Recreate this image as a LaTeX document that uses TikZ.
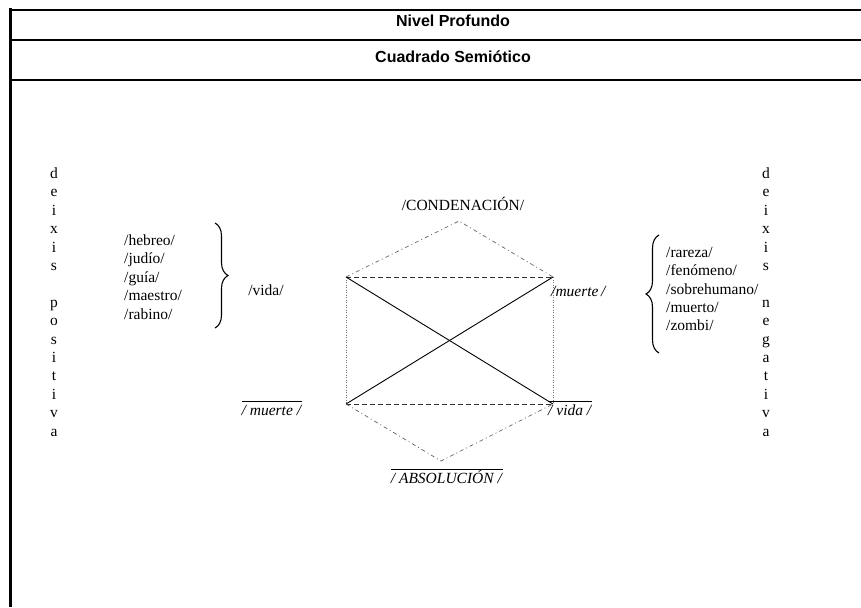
\documentclass[tikz,border=0pt]{standalone}
\usepackage{fontspec}
\setmainfont{Liberation Serif}
\newfontfamily\headfont{Liberation Sans}
\usetikzlibrary{decorations.pathreplacing}
\newcommand{\barred}[1]{$\overline{\mbox{\rule{0pt}{12.5pt}\textit{#1}}}$}
\begin{document}
\begin{tikzpicture}[x=1pt,y=-1pt,
  txt/.style={inner sep=0pt, font=\fontsize{15.5}{18.4}\selectfont},
  head/.style={inner sep=0pt, font=\headfont\bfseries\fontsize{16}{19}\selectfont},
  frame/.style={draw=black, line width=1.3pt},
  contrary/.style={draw=black!80, line width=0.8pt, dash pattern=on 5pt off 3pt},
  contradict/.style={draw=black, line width=0.9pt},
  implies/.style={draw=black!55, line width=0.8pt, dash pattern=on 1pt off 1.5pt},
  meta/.style={draw=black!60, line width=0.7pt, dash pattern=on 4pt off 3pt on 1pt off 3pt},
  bracestyle/.style={draw=black, line width=1.1pt, decorate, decoration={brace, amplitude=13pt}}]
\useasboundingbox (0,0) rectangle (861,607);

% table frame
\draw[line width=3pt] (10,8.5) -- (10,607);
\draw[line width=2.5pt] (8.5,10) -- (861,10);
\draw[frame] (10,40) -- (861,40);
\draw[frame] (10,80) -- (861,80);
\node[head] (lvl) at (453,21) {Nivel Profundo};
\node[head] (sq) at (453,57) {Cuadrado Semiótico};

% corners of the semiotic square
\coordinate (tl) at (346,277);
\coordinate (tr) at (553,277);
\coordinate (bl) at (346,404);
\coordinate (br) at (553,404);
\coordinate (top) at (459,221);
\coordinate (bot) at (441,461);

\draw[contrary] (tl) -- (tr);
\draw[contrary] (bl) -- (br);
\draw[implies] (tl) -- (bl);
\draw[implies] (tr) -- (br);
\draw[contradict] (tl) -- (br);
\draw[contradict] (bl) -- (tr);
\draw[meta] (tl) -- (top) -- (tr);
\draw[meta] (bl) -- (bot) -- (br);

% terms
\node[txt] (cond) at (463,204) {/CONDENACIÓN/};
\node[txt, anchor=west] (mu) at (551,291) {\textit{/muerte\,/}};
\node[txt] (nmu) at (272,408) {\barred{/ muerte /}};
\node[txt, anchor=west] (nvi) at (548,408) {\barred{/ vida /}};
\node[txt] (abs) at (447,476) {\barred{/ ABSOLUCIÓN /}};
\node[txt] (vi) at (266,290) {/vida/};

% positive deixis lexemes
\node[txt, align=left, anchor=west] (poslist) at (124,277)
  {/hebreo/\\/judío/\\/guía/\\/maestro/\\/rabino/};
\coordinate (lbt) at (215,223);
\coordinate (lbb) at (215,328);
\draw[bracestyle] (lbt) -- (lbb);

% negative deixis lexemes
\node[txt, align=left, anchor=west] (neglist) at (666,289)
  {/rareza/\\/fenómeno/\\/sobrehumano/\\/muerto/\\/zombi/};
\coordinate (rbt) at (659,235);
\coordinate (rbb) at (659,353);
\draw[bracestyle] (rbb) -- (rbt);

% vertical labels
\node[txt, align=center] (dpos) at (54,302)
  {d\\e\\i\\x\\i\\s\\\mbox{}\\p\\o\\s\\i\\t\\i\\v\\a};
\node[txt, align=center] (dneg) at (766,302)
  {d\\e\\i\\x\\i\\s\\\mbox{}\\n\\e\\g\\a\\t\\i\\v\\a};
\end{tikzpicture}
\end{document}
